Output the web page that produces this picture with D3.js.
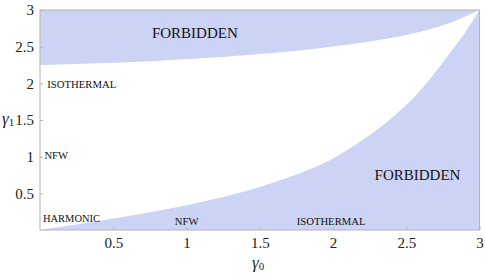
<!DOCTYPE html>
<html><head><meta charset="utf-8">
<script src="https://cdn.jsdelivr.net/npm/d3@7"></script>
<style>body{margin:0;background:#fff}svg{display:block}</style>
</head><body>
<script>
// Data
const xTicks = [0.5, 1, 1.5, 2, 2.5, 3];
const yTicks = [0.5, 1, 1.5, 2, 2.5, 3];
const upperGamma0 = [0, 0.67, 1.35, 1.91, 2.25, 2.59, 2.82, 3];
const upperGamma1 = [2.25, 2.295, 2.377, 2.48, 2.57, 2.70, 2.84, 3];
const lowerGamma0 = [0, 0.44, 0.895, 1.35, 1.80, 2.03, 2.36, 2.59, 2.77, 2.89, 3];
const lowerGamma1 = [0, 0.136, 0.295, 0.50, 0.795, 1.01, 1.46, 1.89, 2.34, 2.66, 3];
const labels = [
  {text: "FORBIDDEN", g0: 0.764, g1: 2.614, size: 15},
  {text: "FORBIDDEN", g0: 2.284, g1: 0.682, size: 15},
  {text: "ISOTHERMAL", g0: 0.05, g1: 1.94, size: 10.7},
  {text: "NFW", g0: 0.03, g1: 0.968, size: 10.7},
  {text: "HARMONIC", g0: 0.02, g1: 0.11, size: 10.5},
  {text: "NFW", g0: 0.92, g1: 0.075, size: 10.7},
  {text: "ISOTHERMAL", g0: 1.752, g1: 0.075, size: 10.7}
];

const font = "'Liberation Serif', 'Times New Roman', serif";

const W = 485, H = 275;
const m = {l: 40, r: 5, t: 10, b: 45};
const svg = d3.select("body").append("svg").attr("width", W).attr("height", H);
const x = d3.scaleLinear().domain([0, 3]).range([m.l, W - m.r - 0.5]);
const y = d3.scaleLinear().domain([0, 3]).range([H - m.b, m.t]);
const fill = "#cdd3f5";

const up = upperGamma0.map((d, i) => [d, upperGamma1[i]]);
const lo = lowerGamma0.map((d, i) => [d, lowerGamma1[i]]);

const curve = d3.curveCatmullRom.alpha(0.5);
const areaUp = d3.area().x(d => x(d[0])).y0(y(3)).y1(d => y(d[1])).curve(curve);
svg.append("path").datum(up).attr("d", areaUp).attr("fill", fill);
const areaLo = d3.area().x(d => x(d[0])).y0(y(0)).y1(d => y(d[1])).curve(curve);
svg.append("path").datum(lo).attr("d", areaLo).attr("fill", fill);

// frame
svg.append("rect").attr("x", x(0)).attr("y", y(3)).attr("width", x(3) - x(0)).attr("height", y(0) - y(3))
  .attr("fill", "none").attr("stroke", "#b4b4b4").attr("stroke-width", 1);

const xAxis = svg.append("g").attr("transform", `translate(0,${y(0)})`)
  .call(d3.axisBottom(x).tickValues(xTicks).tickSize(3).tickPadding(4).tickFormat(d3.format("")));
const yAxis = svg.append("g").attr("transform", `translate(${x(0)},0)`)
  .call(d3.axisLeft(y).tickValues(yTicks).tickSize(3).tickPadding(3).tickFormat(d3.format("")));
[xAxis, yAxis].forEach(a => {
  a.select(".domain").remove();
  a.selectAll(".tick line").attr("stroke", "#b4b4b4");
  a.selectAll(".tick text").attr("font-family", font).attr("font-size", 15).attr("fill", "#222");
});
xAxis.selectAll(".tick line").attr("y2", -3);
yAxis.selectAll(".tick line").attr("x2", 3);

const xt = svg.append("text").attr("x", 252).attr("y", 268)
  .attr("font-family", font).attr("font-size", 17).attr("fill", "#222");
xt.append("tspan").attr("font-style", "italic").text("γ");
xt.append("tspan").attr("font-size", 11).attr("dy", 2).text("0");
const yt = svg.append("text").attr("x", 2).attr("y", 124)
  .attr("font-family", font).attr("font-size", 17).attr("fill", "#222");
yt.append("tspan").attr("font-style", "italic").text("γ");
yt.append("tspan").attr("font-size", 11).attr("dy", 2).text("1");

svg.selectAll("text.lbl").data(labels).join("text").attr("class", "lbl")
  .attr("x", d => x(d.g0)).attr("y", d => y(d.g1))
  .attr("font-family", font).attr("font-size", d => d.size).attr("fill", "#111")
  .text(d => d.text);
</script>
</body></html>
